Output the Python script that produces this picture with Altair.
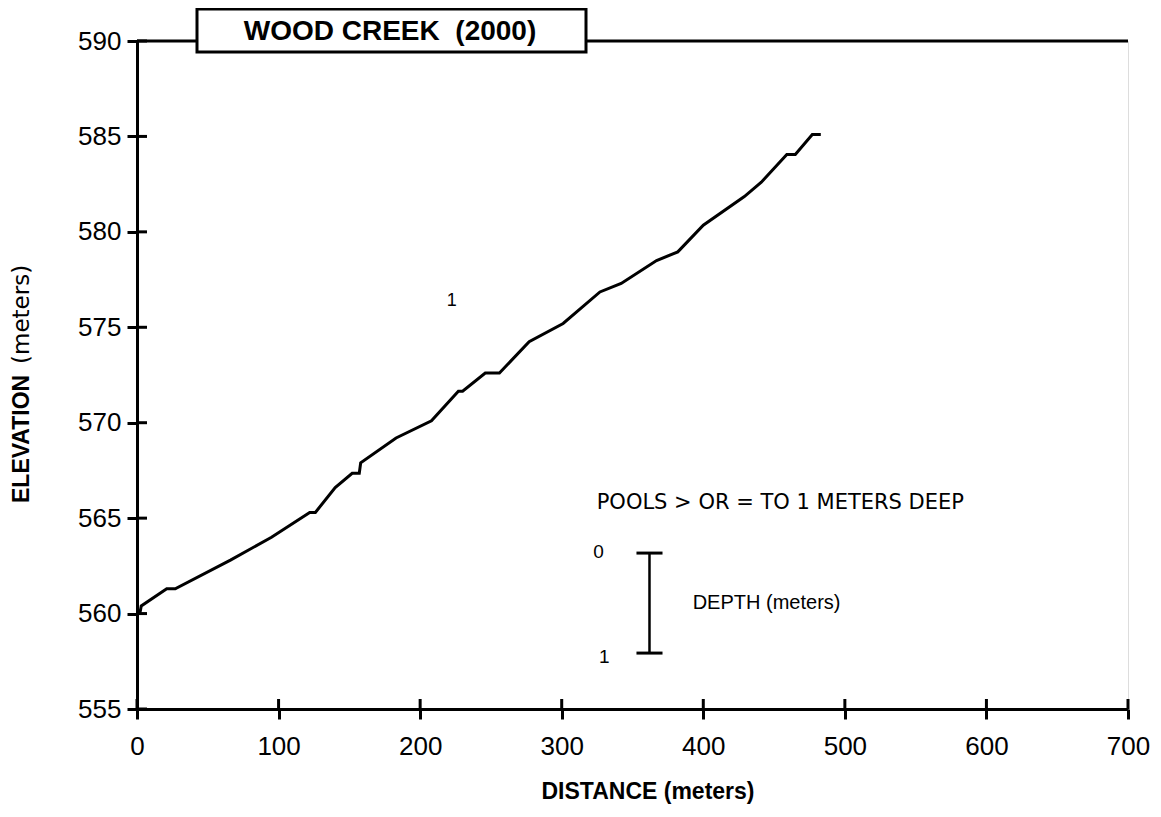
import altair as alt
import pandas as pd

# ---- data ----
distance = [2, 3, 21, 27, 66, 95, 122, 126, 140, 152, 157, 158, 183, 208,
            227, 230, 246, 256, 277, 301, 327, 342, 367, 382, 400, 429,
            441, 459, 465, 477, 483]
elevation = [560.0, 560.4, 561.3, 561.3, 562.8, 564.0, 565.3, 565.3, 566.6,
             567.35, 567.35, 567.9, 569.2, 570.1, 571.65, 571.65, 572.6,
             572.6, 574.25, 575.2, 576.85, 577.3, 578.5, 578.95, 580.35,
             581.85, 582.6, 584.05, 584.05, 585.1, 585.1]

x_ticks = [0, 100, 200, 300, 400, 500, 600, 700]
y_ticks = [555, 560, 565, 570, 575, 580, 585, 590]

pool_labels = ["1"]
pool_x = [222.4]
pool_y = [576.4]

legend_title = "POOLS > OR = TO 1 METERS DEEP"
legend_title_x = [324.7]
legend_title_y = [565.8]
legend_scale_labels = ["0", "1"]
legend_scale_x = [326, 330]
legend_scale_y = [563.2, 557.7]
legend_bar_x = [362]
legend_bar_top = [563.17]
legend_bar_bottom = [557.93]
legend_text = "DEPTH (meters)"

chart_title = "WOOD CREEK\u00a0 (2000)"

W, H = 991, 668
FONT = "Liberation Sans"

xs = alt.Scale(domain=[0, 700], nice=False, zero=False)
ys = alt.Scale(domain=[555, 590], nice=False, zero=False)

profile = pd.DataFrame({"i": range(len(distance)), "d": distance, "e": elevation})

line = alt.Chart(profile).mark_line(color="black", strokeWidth=3, strokeJoin="miter").encode(
    x=alt.X("d:Q", scale=xs,
            axis=alt.Axis(values=x_ticks, title=None, grid=False, labelFontSize=26,
                          labelFont=FONT, labelColor="black", labelFlush=False,
                          labelOverlap=False, labelPadding=14, tickSize=10, tickWidth=3,
                          tickColor="black", domainColor="black", domainWidth=3)),
    y=alt.Y("e:Q", scale=ys,
            axis=alt.Axis(values=y_ticks, title=None, grid=False, labelFontSize=26,
                          labelFont=FONT, labelColor="black", labelOverlap=False,
                          labelPadding=6, tickSize=10, tickWidth=3, tickColor="black",
                          domainColor="black", domainWidth=3)),
    order="i:Q",
)

xt = pd.DataFrame({"v": x_ticks})
inner_x = alt.Chart(xt).mark_rule(color="black", strokeWidth=3).encode(
    x=alt.X("v:Q", scale=xs), y=alt.value(H), y2=alt.value(H - 10))
yt = pd.DataFrame({"v": y_ticks})
inner_y = alt.Chart(yt).mark_rule(color="black", strokeWidth=3).encode(
    y=alt.Y("v:Q", scale=ys), x=alt.value(0), x2=alt.value(10))

# top frame line, broken by the title box
top_left = alt.Chart(pd.DataFrame({"a": [0]})).mark_rule(color="black", strokeWidth=3).encode(
    x=alt.value(0), x2=alt.value(60), y=alt.value(0))
top_right = alt.Chart(pd.DataFrame({"a": [0]})).mark_rule(color="black", strokeWidth=3).encode(
    x=alt.value(449), x2=alt.value(W), y=alt.value(0))
title_box = alt.Chart(pd.DataFrame({"a": [0]})).mark_rect(
    fill="white", stroke="black", strokeWidth=3).encode(
    x=alt.value(60), x2=alt.value(449), y=alt.value(-32), y2=alt.value(11))
title_txt = alt.Chart(pd.DataFrame({"t": [chart_title]})).mark_text(
    font=FONT, fontSize=28, fontWeight="bold", color="black", align="center",
    baseline="middle").encode(x=alt.value(253), y=alt.value(-9), text="t:N")

pool = alt.Chart(pd.DataFrame({"t": pool_labels, "x": pool_x, "y": pool_y})).mark_text(
    font=FONT, fontSize=18, color="black").encode(
    x=alt.X("x:Q", scale=xs), y=alt.Y("y:Q", scale=ys), text="t:N")

leg_title = alt.Chart(pd.DataFrame({"t": [legend_title], "x": legend_title_x,
                                    "y": legend_title_y})).mark_text(
    font="DejaVu Sans", fontSize=21, color="black", align="left", baseline="middle").encode(
    x=alt.X("x:Q", scale=xs), y=alt.Y("y:Q", scale=ys), text="t:N")
leg_nums = alt.Chart(pd.DataFrame({"t": legend_scale_labels, "x": legend_scale_x,
                                   "y": legend_scale_y})).mark_text(
    font=FONT, fontSize=19, color="black", align="center", baseline="middle").encode(
    x=alt.X("x:Q", scale=xs), y=alt.Y("y:Q", scale=ys), text="t:N")
bar_df = pd.DataFrame({"x": legend_bar_x, "x1": [legend_bar_x[0] - 9.2],
                       "x2": [legend_bar_x[0] + 9.2],
                       "top": legend_bar_top, "bot": legend_bar_bottom})
leg_bar = alt.Chart(bar_df).mark_rule(color="black", strokeWidth=2.5).encode(
    x=alt.X("x:Q", scale=xs), y=alt.Y("top:Q", scale=ys), y2="bot:Q")
leg_cap_top = alt.Chart(bar_df).mark_rule(color="black", strokeWidth=3).encode(
    x=alt.X("x1:Q", scale=xs), x2="x2:Q", y=alt.Y("top:Q", scale=ys))
leg_cap_bot = alt.Chart(bar_df).mark_rule(color="black", strokeWidth=3).encode(
    x=alt.X("x1:Q", scale=xs), x2="x2:Q", y=alt.Y("bot:Q", scale=ys))
leg_text = alt.Chart(pd.DataFrame({"t": [legend_text], "x": [392.5], "y": [560.55]})).mark_text(
    font=FONT, fontSize=20, color="black", align="left", baseline="middle").encode(
    x=alt.X("x:Q", scale=xs), y=alt.Y("y:Q", scale=ys), text="t:N")

# axis titles
x_title = alt.Chart(pd.DataFrame({"t": ["DISTANCE (meters)"]})).mark_text(
    font=FONT, fontSize=23, fontWeight="bold", color="black", align="center",
    baseline="middle").encode(x=alt.value(511), y=alt.value(751), text="t:N")
y_title_a = alt.Chart(pd.DataFrame({"t": ["ELEVATION"]})).mark_text(
    font=FONT, fontSize=23, fontWeight="bold", color="black", align="left",
    baseline="middle", angle=270).encode(x=alt.value(-115), y=alt.value(462), text="t:N")
y_title_b = alt.Chart(pd.DataFrame({"t": ["(meters)"]})).mark_text(
    font="DejaVu Sans", fontSize=23, color="black", align="left",
    baseline="middle", angle=270).encode(x=alt.value(-115), y=alt.value(323), text="t:N")

chart = alt.layer(
    line, inner_x, inner_y, top_left, top_right, title_box, title_txt, pool,
    leg_title, leg_nums, leg_bar, leg_cap_top, leg_cap_bot, leg_text,
    x_title, y_title_a, y_title_b,
).properties(
    width=W, height=H,
    autosize=alt.AutoSizeParams(type="none"),
    padding={"left": 129, "top": 33, "right": 25, "bottom": 100},
).configure_view(stroke=None).configure(background="white")

chart.save("out.html", embed_options={"renderer": "svg", "actions": False})
